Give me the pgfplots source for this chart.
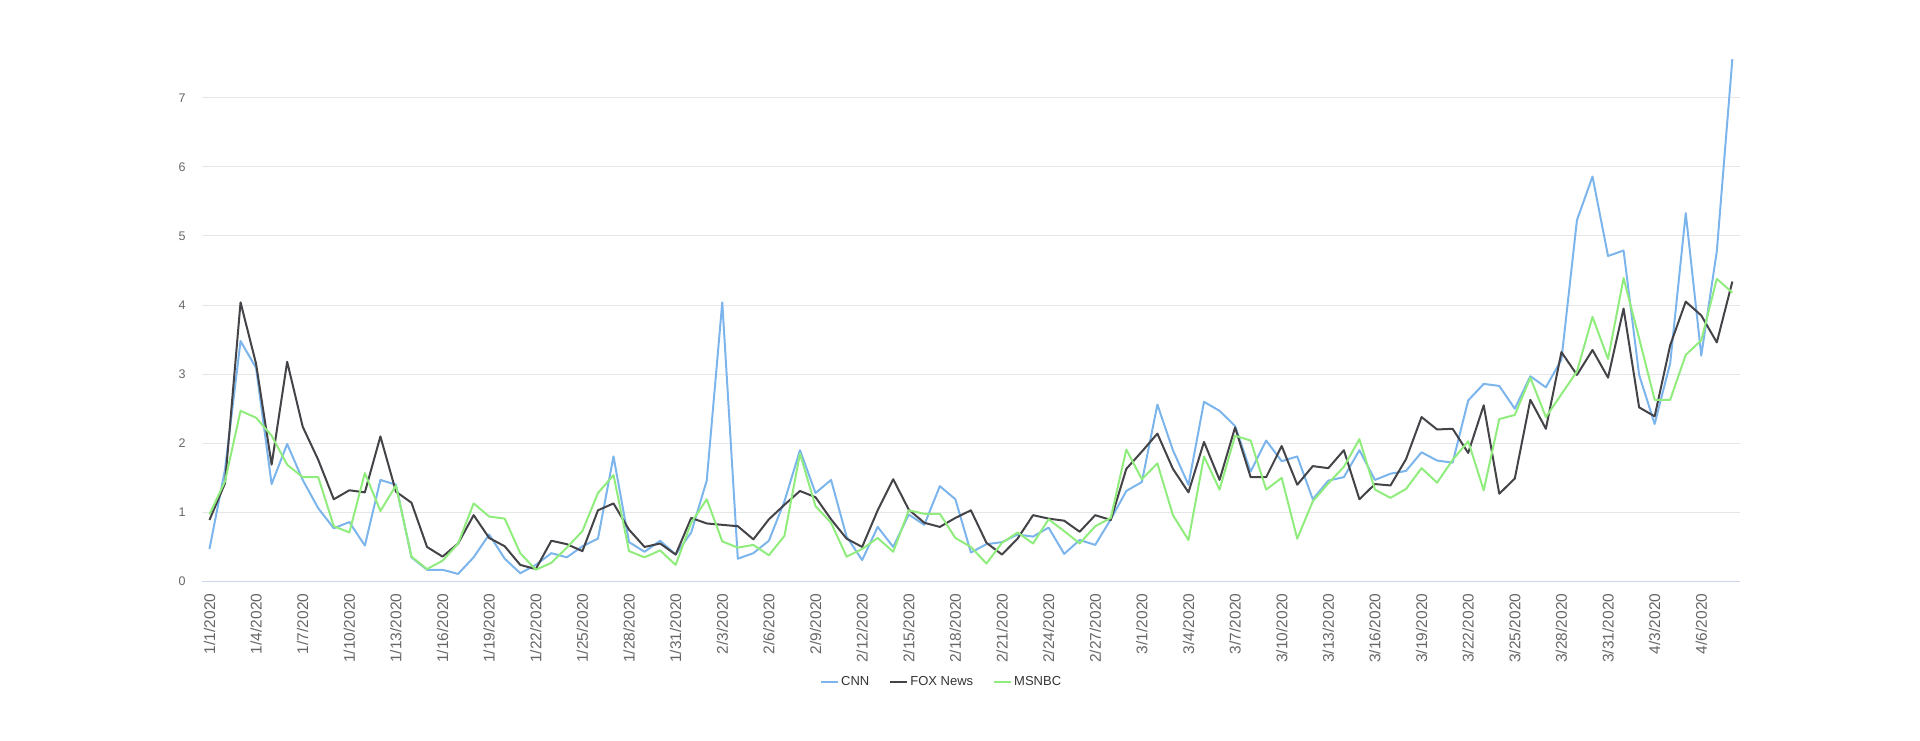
\documentclass[border=0pt]{standalone}
\usepackage{fontspec}
\setmainfont{Liberation Sans}
\usepackage{pgfplots}
\usepackage{pgfplotstable}
\pgfplotsset{compat=1.18}
\definecolor{cnn}{HTML}{7CB5EC}
\definecolor{fox}{HTML}{434348}
\definecolor{msnbc}{HTML}{90ED7D}
\definecolor{gridc}{HTML}{E6E6E6}
\definecolor{axisc}{HTML}{CCD6EB}
\definecolor{lbl}{HTML}{666666}
\definecolor{leg}{HTML}{333333}

\pgfplotstableread{
i cnn fox msnbc
0 0.47 0.89 0.97
1 1.62 1.42 1.45
2 3.48 4.04 2.47
3 3.09 3.15 2.37
4 1.41 1.69 2.11
5 1.99 3.18 1.69
6 1.47 2.24 1.51
7 1.06 1.76 1.51
8 0.77 1.19 0.80
9 0.86 1.32 0.71
10 0.52 1.29 1.57
11 1.47 2.10 1.02
12 1.40 1.30 1.39
13 0.35 1.14 0.36
14 0.17 0.50 0.18
15 0.17 0.36 0.30
16 0.11 0.55 0.55
17 0.35 0.96 1.13
18 0.68 0.63 0.94
19 0.33 0.51 0.91
20 0.12 0.24 0.41
21 0.24 0.18 0.17
22 0.41 0.59 0.27
23 0.35 0.54 0.49
24 0.51 0.44 0.73
25 0.62 1.03 1.28
26 1.81 1.13 1.54
27 0.57 0.75 0.44
28 0.43 0.50 0.35
29 0.59 0.55 0.45
30 0.39 0.39 0.24
31 0.71 0.92 0.85
32 1.46 0.84 1.19
33 4.04 0.82 0.58
34 0.33 0.80 0.49
35 0.41 0.61 0.53
36 0.59 0.90 0.38
37 1.16 1.11 0.66
38 1.90 1.31 1.85
39 1.28 1.22 1.09
40 1.47 0.90 0.85
41 0.65 0.62 0.36
42 0.31 0.50 0.47
43 0.79 1.03 0.63
44 0.50 1.48 0.43
45 0.97 1.04 1.03
46 0.82 0.85 0.98
47 1.38 0.79 0.98
48 1.19 0.92 0.63
49 0.42 1.03 0.50
50 0.54 0.56 0.26
51 0.57 0.39 0.56
52 0.68 0.62 0.71
53 0.65 0.96 0.55
54 0.78 0.91 0.90
55 0.40 0.88 0.73
56 0.60 0.72 0.55
57 0.53 0.96 0.80
58 0.90 0.89 0.92
59 1.31 1.63 1.91
60 1.44 1.88 1.48
61 2.56 2.14 1.71
62 1.90 1.63 0.96
63 1.40 1.29 0.60
64 2.60 2.02 1.81
65 2.47 1.47 1.33
66 2.25 2.23 2.11
67 1.59 1.51 2.04
68 2.04 1.51 1.33
69 1.74 1.96 1.50
70 1.81 1.40 0.62
71 1.19 1.67 1.16
72 1.46 1.64 1.42
73 1.51 1.90 1.66
74 1.90 1.19 2.06
75 1.47 1.41 1.33
76 1.56 1.39 1.21
77 1.60 1.77 1.34
78 1.87 2.38 1.64
79 1.75 2.20 1.43
80 1.72 2.21 1.76
81 2.62 1.86 2.03
82 2.86 2.55 1.32
83 2.83 1.27 2.35
84 2.50 1.49 2.41
85 2.97 2.63 2.95
86 2.81 2.21 2.38
87 3.21 3.32 2.71
88 5.23 2.99 3.04
89 5.86 3.35 3.83
90 4.71 2.95 3.22
91 4.79 3.95 4.39
92 2.99 2.52 3.52
93 2.28 2.39 2.63
94 3.16 3.42 2.63
95 5.33 4.05 3.28
96 3.27 3.85 3.49
97 4.78 3.46 4.38
98 7.56 4.34 4.18
}\datatable

\begin{document}
\begin{tikzpicture}
\begin{axis}[
  at={(0pt,0pt)}, anchor=south west,
  scale only axis, width=1538.5pt, height=525.2pt,
  xmin=-0.5, xmax=98.5, ymin=0, ymax=7.6,
  axis x line*=bottom, axis y line*=left,
  x axis line style={draw=axisc, line width=1pt, -},
  y axis line style={draw=none},
  ytick={0,1,...,7}, ymajorgrids,
  grid style={draw=gridc, line width=1pt},
  xtick={0,3,...,96},
  xticklabels={1/1/2020,1/4/2020,1/7/2020,1/10/2020,1/13/2020,1/16/2020,1/19/2020,1/22/2020,1/25/2020,1/28/2020,1/31/2020,2/3/2020,2/6/2020,2/9/2020,2/12/2020,2/15/2020,2/18/2020,2/21/2020,2/24/2020,2/27/2020,3/1/2020,3/4/2020,3/7/2020,3/10/2020,3/13/2020,3/16/2020,3/19/2020,3/22/2020,3/25/2020,3/28/2020,3/31/2020,4/3/2020,4/6/2020},
  major tick length=0pt,
  tick label style={text=lbl},
  yticklabel style={anchor=east, inner sep=0pt, font=\fontsize{12.5}{14}\selectfont},
  xticklabel style={rotate=90, anchor=east, inner sep=0pt, font=\fontsize{15.5}{17}\selectfont},
  xticklabel shift=12pt, yticklabel shift=16pt,
  /pgf/number format/assume math mode=true,
  legend style={at={(0.481,-0.191)}, anchor=center, draw=none, fill=none,
    font=\fontsize{13}{15}\selectfont, text=leg, legend columns=3,
    /tikz/every even column/.append style={column sep=18pt}},
  legend image code/.code={\draw[#1] (-3pt,0pt) -- (14pt,0pt);},
]
\addplot[cnn, line width=2pt, line join=round] table[x=i,y=cnn]{\datatable};
\addplot[fox, line width=2pt, line join=round] table[x=i,y=fox]{\datatable};
\addplot[msnbc, line width=2pt, line join=round] table[x=i,y=msnbc]{\datatable};
\legend{CNN, FOX News, MSNBC}
\end{axis}
\pgfresetboundingbox
\useasboundingbox (-201.7pt,-158.5pt) rectangle (1718.3pt,581.5pt);
\end{tikzpicture}
\end{document}
